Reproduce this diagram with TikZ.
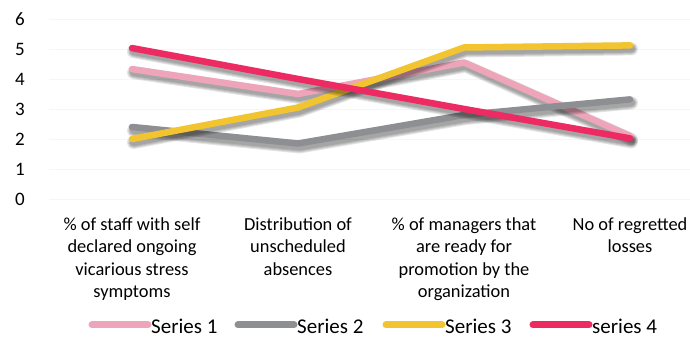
\documentclass[tikz,border=0pt]{standalone}
\usepackage{fontspec}
\setmainfont{Carlito}
\definecolor{sOne}{HTML}{EEA5B9}
\definecolor{sTwo}{HTML}{8E8F93}
\definecolor{sThree}{HTML}{F2C530}
\definecolor{sFour}{HTML}{EE2A62}
\definecolor{gridc}{HTML}{F6F6F6}
\tikzset{
  x=1pt,y=1pt,
  gridline/.style={draw=gridc,line width=0.8pt},
  axislbl/.style={anchor=base,inner sep=0pt,font=\fontsize{19}{23}\selectfont},
  catlbl/.style={anchor=north,inner sep=0pt,align=center,font=\fontsize{18.4}{22.5}\selectfont},
  leglbl/.style={anchor=base west,inner sep=0pt,font=\fontsize{21}{25}\selectfont},
  serline/.style={line width=6.5pt,line cap=round,line join=round},
  legline/.style={line width=7pt,line cap=round},
  shade/.style={line cap=round,line join=round,draw=black,opacity=0.1}
}
\newcommand{\sh}[1]{([xshift=1.5pt,yshift=-3.5pt]#1)}
\newcommand{\shadowed}[2]{%
  \foreach \w in {13,11,9,7}{\draw[shade,line width=\w pt] \sh{p#2a} -- \sh{p#2b} -- \sh{p#2c} -- \sh{p#2d};}
  \draw[serline,draw=#1] (p#2a) -- (p#2b) -- (p#2c) -- (p#2d);}
\begin{document}
\begin{tikzpicture}
\useasboundingbox[fill=white] (0,0) rectangle (690,337);
% grid and axis labels (Y = 138 + 30 v)
\foreach \v in {0,...,6}{
  \coordinate (gl\v) at (49,138+30*\v);
  \coordinate (gr\v) at (690,138+30*\v);
  \draw[gridline] (gl\v) -- (gr\v);
  \node[axislbl] (yl\v) at (20,131.5+30*\v) {\v};
}
% data points
\foreach \n/\a/\b/\c/\d in {1/4.33/3.5/4.55/2.1, 2/2.4/1.85/2.8/3.32, 3/2.0/3.05/5.05/5.12, 4/5.03/4.0/3.0/2.02}{
  \coordinate (p\n a) at (132,138+30*\a);
  \coordinate (p\n b) at (298,138+30*\b);
  \coordinate (p\n c) at (464,138+30*\c);
  \coordinate (p\n d) at (630,138+30*\d);
}
\shadowed{sOne}{1}
\shadowed{sTwo}{2}
\shadowed{sThree}{3}
\shadowed{sFour}{4}
% category labels
\node[catlbl] (c1) at (132,119.5) {\% of staff with self\\declared ongoing\\vicarious stress\\symptoms};
\node[catlbl] (c2) at (298,119.5) {Distribution of\\unscheduled\\absences};
\node[catlbl] (c3) at (464,119.5) {\% of managers that\\are ready for\\promotion by the\\organization};
\node[catlbl] (c4) at (630,119.5) {No of regretted\\losses};
% legend
\foreach \i/\xs/\col/\txt in {1/92/sOne/Series 1, 2/238/sTwo/Series 2, 3/386/sThree/Series 3, 4/533/sFour/series 4}{
  \coordinate (la\i) at (\xs,12);
  \coordinate (lb\i) at (\xs+56,12);
  \draw[legline,draw=\col] (la\i) -- (lb\i);
  \node[leglbl] (lt\i) at (\xs+59,4) {\txt};
}
\end{tikzpicture}
\end{document}
